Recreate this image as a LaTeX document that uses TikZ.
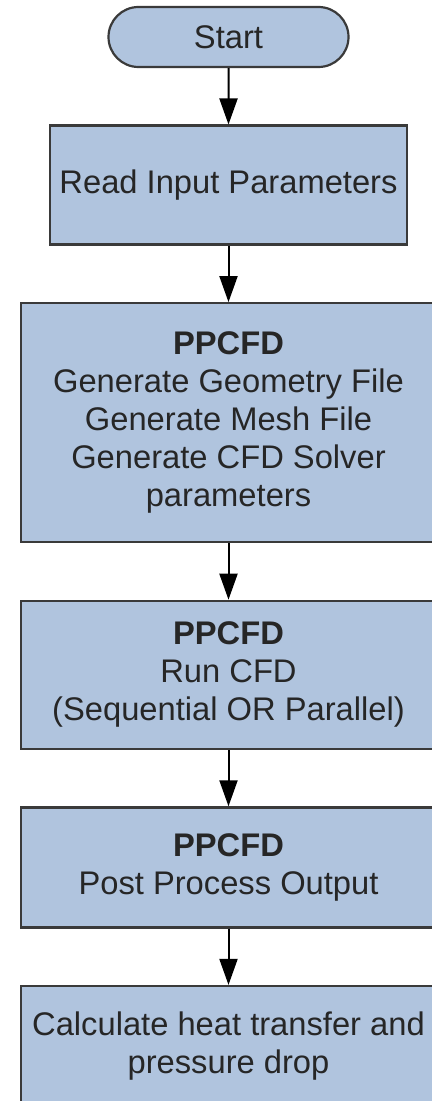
\documentclass[tikz,border=0pt]{standalone}
\usepackage{fontspec}
\setmainfont{Liberation Sans}
\usetikzlibrary{arrows.meta, positioning, shapes.misc}
\definecolor{flowFill}{RGB}{176,196,222}
\definecolor{flowLine}{RGB}{58,58,58}
\definecolor{flowText}{RGB}{38,38,38}

\begin{document}
\begin{tikzpicture}[
    node distance=28.2pt,
    base/.style={
      draw=flowLine, line width=1.1pt, fill=flowFill, text=flowText,
      align=center, inner sep=0pt, font=\fontsize{16.35}{19}\selectfont
    },
    term/.style={base, rounded rectangle, minimum width=120pt, minimum height=30pt},
    proc/.style={base, rectangle, minimum width=207.5pt},
    arr/.style={-{Triangle[length=13pt, width=9pt]}, line width=1pt, black}
  ]
    \useasboundingbox (0,0) rectangle (216pt,-550.5pt);

    \node[term] (start) at (114.25pt,-18.5pt) {Start};
    \node[proc, below=of start, minimum width=178.5pt, minimum height=59.5pt] (read) {Read Input Parameters};
    \node[proc, below=of read, minimum height=119.5pt] (gen)
      {\textbf{PPCFD}\\Generate Geometry File\\Generate Mesh File\\Generate CFD Solver\\parameters};
    \node[proc, below=of gen, minimum height=74pt] (run)
      {\textbf{PPCFD}\\Run CFD\\(Sequential OR Parallel)};
    \node[proc, below=of run, minimum height=60pt] (post)
      {\textbf{PPCFD}\\Post Process Output};
    \node[proc, below=of post, minimum height=60pt] (calc)
      {Calculate heat transfer and\\pressure drop};

    \draw[arr] (start) -- (read);
    \draw[arr] (read) -- (gen);
    \draw[arr] (gen) -- (run);
    \draw[arr] (run) -- (post);
    \draw[arr] (post) -- (calc);
  \end{tikzpicture}
\end{document}
